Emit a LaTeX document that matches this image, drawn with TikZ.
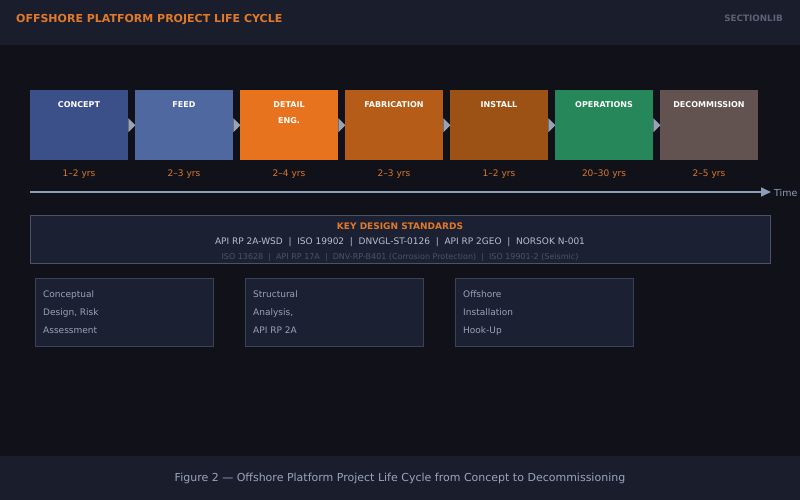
\documentclass[tikz,border=0pt]{standalone}
\usepackage{fontspec}
\setmainfont{DejaVu Sans}
\usetikzlibrary{arrows.meta}
\definecolor{bgmain}{HTML}{111219}
\definecolor{bgband}{HTML}{1A1D2B}
\definecolor{titleor}{HTML}{E07A2A}
\definecolor{brand}{HTML}{5C6275}
\definecolor{cConcept}{HTML}{3B5088}
\definecolor{cFeed}{HTML}{5068A0}
\definecolor{cDetail}{HTML}{E8731E}
\definecolor{cFab}{HTML}{B55C18}
\definecolor{cInst}{HTML}{9C5215}
\definecolor{cOps}{HTML}{25875A}
\definecolor{cDec}{HTML}{635350}
\definecolor{tri}{HTML}{9AA3B5}
\definecolor{durc}{HTML}{D9782A}
\definecolor{axisc}{HTML}{8D9CB8}
\definecolor{panel}{HTML}{1B2033}
\definecolor{panelbd}{HTML}{4A5266}
\definecolor{cardbd}{HTML}{3A4256}
\definecolor{stdtext}{HTML}{B8BFCC}
\definecolor{stdfaint}{HTML}{4C5468}
\definecolor{cardtext}{HTML}{9AA3B5}
\definecolor{captc}{HTML}{9AA3C0}
\tikzset{
  phase/.style={rectangle, minimum width=98pt, minimum height=70pt, inner sep=0pt, anchor=north west},
  phlabel/.style={font=\bfseries\fontsize{8}{9}\selectfont, text=white, anchor=center},
  dur/.style={font=\fontsize{9}{10}\selectfont, text=durc, anchor=center},
  card/.style={rectangle, draw=cardbd, fill=panel, line width=0.8pt, minimum width=178pt, minimum height=68pt, inner sep=0pt, anchor=north west},
  cardtxt/.style={font=\fontsize{9}{10}\selectfont, text=cardtext, anchor=base west, inner sep=0pt}
}
\begin{document}
\begin{tikzpicture}[x=1pt,y=-1pt]
\useasboundingbox (0,0) rectangle (800,500);
\fill[bgmain] (0,0) rectangle (800,500);
\fill[bgband] (0,0) rectangle (800,45);
\fill[bgband] (0,456) rectangle (800,500);
\node[font=\bfseries\fontsize{11}{12}\selectfont, text=titleor, anchor=west, inner sep=0pt] (title) at (16,19.5) {OFFSHORE PLATFORM PROJECT LIFE CYCLE};
\node[font=\bfseries\fontsize{8.8}{10}\selectfont, text=brand, anchor=east, inner sep=0pt] (brandn) at (783,18) {SECTIONLIB};
% phases
\node[phase, fill=cConcept] (p1) at (30,90) {};
\node[phase, fill=cFeed] (p2) at (135,90) {};
\node[phase, fill=cDetail] (p3) at (240,90) {};
\node[phase, fill=cFab] (p4) at (345,90) {};
\node[phase, fill=cInst] (p5) at (450,90) {};
\node[phase, fill=cOps] (p6) at (555,90) {};
\node[phase, fill=cDec] (p7) at (660,90) {};
\node[phlabel] (l1) at (79,104.5) {CONCEPT};
\node[phlabel] (l2) at (184,104.5) {FEED};
\node[phlabel] (l3) at (289,104.5) {DETAIL};
\node[phlabel] (l3b) at (289,120.5) {ENG.};
\node[phlabel] (l4) at (394,104.5) {FABRICATION};
\node[phlabel] (l5) at (499,104.5) {INSTALL};
\node[phlabel] (l6) at (604,104.5) {OPERATIONS};
\node[phlabel] (l7) at (709,104.5) {DECOMMISSION};
\foreach \a in {p1,p2,p3,p4,p5,p6}{
  \fill[tri] (\a.east) ++(0,-7) -- ++(7,7) -- ++(-7,7) -- cycle;
}
\node[dur] (d1) at (79,174) {1–2 yrs};
\node[dur] (d2) at (184,174) {2–3 yrs};
\node[dur] (d3) at (289,174) {2–4 yrs};
\node[dur] (d4) at (394,174) {2–3 yrs};
\node[dur] (d5) at (499,174) {1–2 yrs};
\node[dur] (d6) at (604,174) {20–30 yrs};
\node[dur] (d7) at (709,174) {2–5 yrs};
% time axis
\coordinate (t0) at (30,192);
\coordinate (t1) at (771,192);
\draw[axisc, line width=1.5pt, -{Triangle[length=10pt,width=9pt]}] (t0) -- (t1);
\node[font=\fontsize{9.5}{10}\selectfont, text=axisc, anchor=west, inner sep=0pt] (timel) at (774,192.5) {Time};
% standards
\node[rectangle, draw=panelbd, fill=panel, line width=0.8pt, minimum width=740pt, minimum height=48pt, inner sep=0pt, anchor=north west] (std) at (30,215) {};
\node[font=\bfseries\fontsize{9}{10}\selectfont, text=titleor, inner sep=0pt] (stdt) at (400,226.5) {KEY DESIGN STANDARDS};
\node[font=\fontsize{9}{10}\selectfont, text=stdtext, inner sep=0pt] (std1) at (400,242.5) {API RP 2A-WSD \ | \ ISO 19902 \ | \ DNVGL-ST-0126 \ | \ API RP 2GEO \ | \ NORSOK N-001};
\node[font=\fontsize{8}{9}\selectfont, text=stdfaint, inner sep=0pt] (std2) at (400,257.5) {ISO 13628 \ | \ API RP 17A \ | \ DNV-RP-B401 (Corrosion Protection) \ | \ ISO 19901-2 (Seismic)};
% cards
\node[card] (c1) at (35,278) {};
\node[card] (c2) at (245,278) {};
\node[card] (c3) at (455,278) {};
\node[cardtxt] (c1a) at (43,297) {Conceptual};
\node[cardtxt] (c1b) at (43,315) {Design, Risk};
\node[cardtxt] (c1c) at (43,333) {Assessment};
\node[cardtxt] (c2a) at (253,297) {Structural};
\node[cardtxt] (c2b) at (253,315) {Analysis,};
\node[cardtxt] (c2c) at (253,333) {API RP 2A};
\node[cardtxt] (c3a) at (463,297) {Offshore};
\node[cardtxt] (c3b) at (463,315) {Installation};
\node[cardtxt] (c3c) at (463,333) {Hook-Up};
% caption
\node[font=\fontsize{11}{12}\selectfont, text=captc, inner sep=0pt] (cap) at (400,478.5) {Figure 2 — Offshore Platform Project Life Cycle from Concept to Decommissioning};
\end{tikzpicture}
\end{document}
